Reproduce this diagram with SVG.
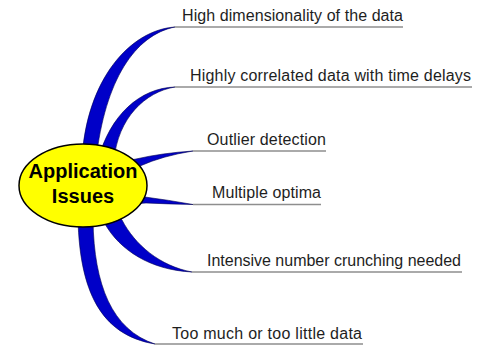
<svg xmlns="http://www.w3.org/2000/svg" width="477" height="346" viewBox="0 0 477 346">
  <style>
    .branch { fill: #0000c8; stroke: #000050; stroke-width: 0.6; stroke-linejoin: round; }
    .rule { stroke: #8e8e8e; stroke-width: 1.5; fill: none; }
    .label { font-family: "Liberation Sans", Arial, sans-serif; font-size: 16px; fill: #1e1e1e; }
    .hub-text { font-family: "Liberation Sans", Arial, sans-serif; font-size: 20px; font-weight: bold; fill: #000; text-anchor: middle; }
  </style>
  <rect width="477" height="346" fill="#ffffff"/>

  <!-- tapered branches and underline rules -->
  <g id="connectors">
    <path class="branch" d="M82,160 C86,80 130,30 175,27 C135,35 105,80 96,160 Z"/>
    <path class="branch" d="M98,160 C110,115 140,88 175,87 C145,92 118,118 114,160 Z"/>
    <path class="branch" d="M120,162 L136,159 Q162,153 193,151 Q162,156 140,166 L122,170 Z"/>
    <path class="branch" d="M132,196 L145,197 Q168,200 193,204.5 Q168,204 146,203 L132,204 Z"/>
    <path class="branch" d="M100,215 L105,224 C120,250 150,270 192,272 C160,266 135,245 122,220 L115,212 Z"/>
    <path class="branch" d="M78,220 C80,290 100,335 155,344 C112,330 94,285 93,220 Z"/>

    <line class="rule" x1="175" y1="27" x2="403" y2="27"/>
    <line class="rule" x1="175" y1="87" x2="472" y2="87"/>
    <line class="rule" x1="193" y1="151" x2="326" y2="151"/>
    <line class="rule" x1="193" y1="204.5" x2="321" y2="204.5"/>
    <line class="rule" x1="192" y1="272" x2="462" y2="272"/>
    <line class="rule" x1="155" y1="344" x2="363" y2="344"/>
  </g>

  <g id="hub">
    <ellipse cx="83" cy="185.5" rx="64" ry="41.5" fill="#ffff00" stroke="#000" stroke-width="1.5"/>
    <text class="hub-text" x="83" y="178">Application</text>
    <text class="hub-text" x="83" y="203">Issues</text>
  </g>

  <g id="item-dimensionality">
    <text class="label" x="182" y="21" textLength="221" lengthAdjust="spacing">High dimensionality of the data</text>
  </g>
  <g id="item-correlated">
    <text class="label" x="190" y="81" textLength="281" lengthAdjust="spacing">Highly correlated data with time delays</text>
  </g>
  <g id="item-outlier">
    <text class="label" x="207" y="145" textLength="119" lengthAdjust="spacing">Outlier detection</text>
  </g>
  <g id="item-optima">
    <text class="label" x="212" y="198" textLength="109" lengthAdjust="spacing">Multiple optima</text>
  </g>
  <g id="item-crunching">
    <text class="label" x="207" y="266" textLength="254" lengthAdjust="spacing">Intensive number crunching needed</text>
  </g>
  <g id="item-data-size">
    <text class="label" x="172" y="339" textLength="190" lengthAdjust="spacing">Too much or too little data</text>
  </g>
</svg>
